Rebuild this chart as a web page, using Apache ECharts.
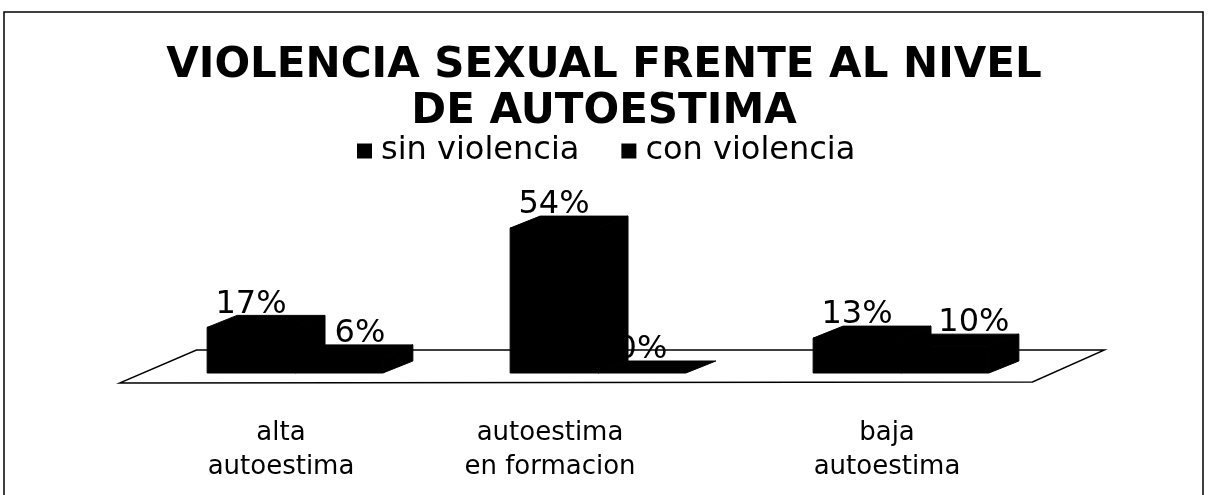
<!DOCTYPE html>
<html>
<head>
<meta charset="utf-8">
<script src="https://cdn.jsdelivr.net/npm/echarts@6/dist/echarts.min.js"></script>
<style>
html,body{margin:0;padding:0;background:#fff;}
#chart{width:1208px;height:495px;}
</style>
</head>
<body>
<div id="chart"></div>
<script>
const titleText = 'VIOLENCIA SEXUAL FRENTE AL NIVEL\nDE AUTOESTIMA';
const categories = ['alta\nautoestima', 'autoestima\nen formacion', 'baja\nautoestima'];
const seriesNames = ['sin violencia', 'con violencia'];
const sinViolencia = [17, 54, 13];
const conViolencia = [6, 0, 10];

const FONT = '"DejaVu Sans", Verdana, sans-serif';
const DX = 30, DY = 12;
// horizontal shift (px) of each category label, as seen in the picture
const labelShift = [-14, -48, -14];
// horizontal shift (px) of each value label, per series, as seen in the picture
const valueLabelShift = [[0, 0, 0], [21, 0, 29]];

function barRenderer(sIdx) {
  return function (params, api) {
    const cat = api.value(0), v = api.value(1);
    const base = api.coord([cat, 0]);
    const top = api.coord([cat, v]);
    const band = api.size([1, 0])[0];
    const w = band * 0.29;
    const x0 = base[0] + (sIdx === 0 ? -w : 0);
    const x1 = x0 + w;
    const yb = base[1], yt = top[1];
    const st = {fill: '#000', stroke: '#000', lineWidth: 1};
    const children = [];
    if (yb - yt > 0.5) {
      children.push({type: 'rect', shape: {x: x0, y: yt, width: w, height: yb - yt}, style: st});
      children.push({type: 'polygon', shape: {points: [[x1, yt], [x1 + DX, yt - DY], [x1 + DX, yb - DY], [x1, yb]]}, style: st});
    }
    children.push({type: 'polygon', shape: {points: [[x0, yt], [x0 + DX, yt - DY], [x1 + DX, yt - DY], [x1, yt]]}, style: st});
    children.push({
      type: 'text',
      style: {
        text: v + '%', x: x0 + w / 2 + valueLabelShift[sIdx][params.dataIndex], y: yt - DY + 5,
        align: 'center', verticalAlign: 'bottom',
        font: '32px ' + FONT, fill: '#000'
      },
      z2: 10
    });
    return {type: 'group', children: children};
  };
}

function floorRenderer(params, api) {
  const cs = params.coordSys;
  const y0 = api.coord([0, 0])[1];
  const xl = cs.x, xr = cs.x + cs.width;
  return {
    type: 'polygon',
    shape: {points: [[xl - 24, y0 + 10], [xr - 20, y0 + 9], [xr + 52, y0 - 23], [xl + 53, y0 - 23]]},
    style: {fill: '#fff', stroke: '#000', lineWidth: 1.4}
  };
}

const rich = {};
labelShift.forEach((s, i) => {
  rich['c' + i] = {fontFamily: FONT, fontSize: 26, lineHeight: 34, color: '#000',
                   padding: s < 0 ? [0, -2 * s, 0, 0] : [0, 0, 0, 2 * s]};
});

const chart = echarts.init(document.getElementById('chart'), null, {renderer: 'canvas'});
chart.setOption({
  backgroundColor: '#fff',
  animation: false,
  title: {
    text: titleText, left: 'center', top: 38,
    textStyle: {fontFamily: FONT, fontWeight: 'bold', fontSize: 42, lineHeight: 46, color: '#000'}
  },
  legend: {
    data: seriesNames, top: 130, left: 352, icon: 'rect', itemWidth: 15, itemHeight: 15, itemGap: 42,
    textStyle: {fontFamily: FONT, fontSize: 32, color: '#000', padding: [0, 0, 0, 4]}
  },
  graphic: [{
    type: 'rect', shape: {x: 4, y: 12, width: 1199, height: 500},
    style: {fill: 'none', stroke: '#000', lineWidth: 1.5}, silent: true, z: -10
  }],
  grid: {left: 143.5, right: 155.5, top: 212, bottom: 122, containLabel: false},
  xAxis: {
    type: 'category', data: categories,
    axisLine: {show: false}, axisTick: {show: false}, splitLine: {show: false},
    axisLabel: {
      interval: 0, margin: 43, color: '#000', fontFamily: FONT, fontSize: 26, lineHeight: 34,
      formatter: (val, idx) => val.split('\n').map(l => '{c' + idx + '|' + l + '}').join('\n'),
      rich: rich
    }
  },
  yAxis: {type: 'value', min: 0, max: 60, show: false},
  series: [
    {type: 'custom', name: 'floor', renderItem: floorRenderer, data: [[0, 0]], z: 1, silent: true},
    {type: 'custom', name: seriesNames[0], itemStyle: {color: '#000'}, renderItem: barRenderer(0),
     data: sinViolencia.map((v, i) => [i, v]), z: 3},
    {type: 'custom', name: seriesNames[1], itemStyle: {color: '#000'}, renderItem: barRenderer(1),
     data: conViolencia.map((v, i) => [i, v]), z: 2}
  ]
});
</script>
</body>
</html>
